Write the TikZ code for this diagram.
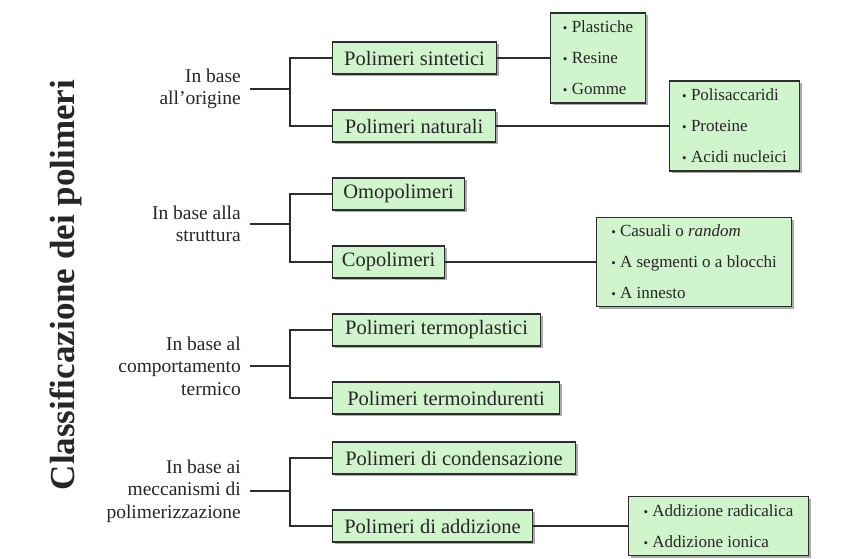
\documentclass[tikz,border=0pt]{standalone}
\usepackage{fontspec}
\setmainfont{Liberation Serif}
\usetikzlibrary{shadows}
\definecolor{boxgreen}{RGB}{208,244,204}
\definecolor{linegray}{RGB}{45,45,45}
\newcommand{\bul}{{\fontsize{13}{31}\selectfont\textbullet}}

\begin{document}
\begin{tikzpicture}[
  x=1pt,y=-1pt,
  cat/.style={anchor=east,align=right,inner xsep=9pt,inner ysep=0pt,
    font=\fontsize{19.5}{22.5}\selectfont,text=black!85},
  box/.style={anchor=west,draw=linegray,line width=1.1pt,fill=boxgreen,
    minimum height=32pt,inner xsep=4pt,text=black!85,
    font=\fontsize{20.5}{22}\selectfont,
    drop shadow={shadow xshift=2pt,shadow yshift=-2pt,fill=black!55,opacity=.6}},
  sub/.style={box,align=left,inner ysep=0pt,font=\fontsize{17}{31}\selectfont},
  wire/.style={linegray,line width=1.1pt},
  ttl/.style={rotate=90,font=\bfseries\fontsize{35}{38}\selectfont,text=black!85}
]
\useasboundingbox (0,0) rectangle (855,558);

\node[ttl] (title) at (66,285) {Classificazione dei polimeri};

% criteri
\node[cat] (orig) at (250,89)  {In base\\all’origine};
\node[cat] (stru) at (250,224) {In base alla\\struttura};
\node[cat] (term) at (250,366) {In base al\\comportamento\\termico};
\node[cat] (mecc) at (250,491) {In base ai\\meccanismi di\\polimerizzazione};

% classi
\node[box,minimum width=164pt] (sint) at (332,58)  {Polimeri sintetici};
\node[box,minimum width=163pt] (nat)  at (332,126) {Polimeri naturali};
\node[box,minimum width=132pt] (omo)  at (332,194) {Omopolimeri};
\node[box,minimum width=112pt] (copo) at (332,262) {Copolimeri};
\node[box,minimum width=208pt] (tpl)  at (332,330) {Polimeri termoplastici};
\node[box,minimum width=227pt] (tind) at (332,398) {Polimeri termoindurenti};
\node[box,minimum width=243pt] (cond) at (332,458) {Polimeri di condensazione};
\node[box,minimum width=200pt] (addi) at (332,526) {Polimeri di addizione};

% esempi
\node[sub,minimum width=95pt,minimum height=90pt]  (plast) at (550,58)
  {\bul{} Plastiche\\\bul{} Resine\\\bul{} Gomme};
\node[sub,minimum width=130pt,minimum height=90pt] (polis) at (669,126)
  {\bul{} Polisaccaridi\\\bul{} Proteine\\\bul{} Acidi nucleici};
\node[sub,minimum width=195pt,minimum height=89pt] (casu)  at (596,262)
  {\bul{} Casuali o \textit{random}\\\bul{} A segmenti o a blocchi\\\bul{} A innesto};
\node[sub,minimum width=180pt,minimum height=59pt] (radi)  at (628,526)
  {\bul{} Addizione radicalica\\\bul{} Addizione ionica};

% raccordi
\coordinate (j1) at (290,89);
\coordinate (j2) at (290,224);
\coordinate (j3) at (290,366);
\coordinate (j4) at (290,491);
\draw[wire] (orig.east) -- (j1);
\draw[wire] (stru.east) -- (j2);
\draw[wire] (term.east) -- (j3);
\draw[wire] (mecc.east) -- (j4);
\draw[wire] (sint.west) -| (j1) |- (nat.west);
\draw[wire] (omo.west) -| (j2) |- (copo.west);
\draw[wire] (tpl.west) -| (j3) |- (tind.west);
\draw[wire] (cond.west) -| (j4) |- (addi.west);
\draw[wire] (sint.east) -- (plast.west);
\draw[wire] (nat.east) -- (polis.west);
\draw[wire] (copo.east) -- (casu.west);
\draw[wire] (addi.east) -- (radi.west);
\end{tikzpicture}
\end{document}
